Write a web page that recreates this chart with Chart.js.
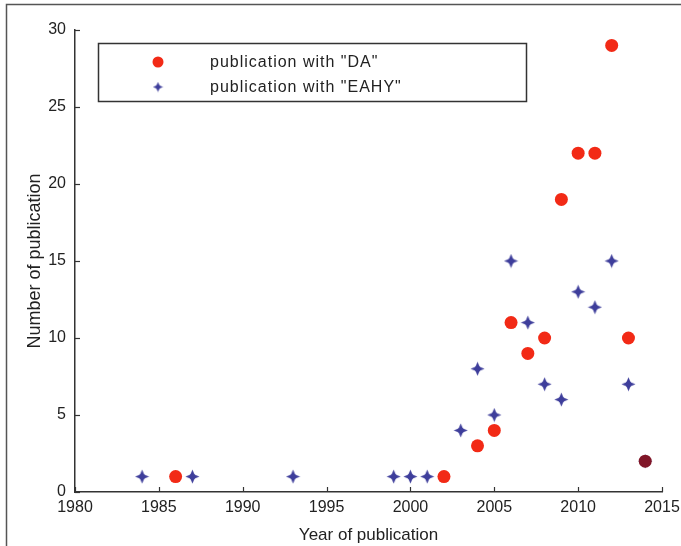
<!DOCTYPE html>
<html>
<head>
<meta charset="utf-8">
<script src="https://cdn.jsdelivr.net/npm/chart.js@4.4.0/dist/chart.umd.min.js"></script>
<style>
  html, body { margin: 0; padding: 0; background: #fff; }
  #wrap { width: 681px; height: 546px; }
</style>
</head>
<body>
<div id="wrap"><canvas id="pub-chart" width="681" height="546"></canvas></div>
<script>
const daYears = [1986, 2002, 2004, 2005, 2006, 2007, 2008, 2009, 2010, 2011, 2012, 2013, 2014]
const daCounts = [1, 1, 3, 4, 11, 9, 10, 19, 22, 22, 29, 10, 2]
const eahyYears = [1984, 1987, 1993, 1999, 2000, 2001, 2003, 2004, 2005, 2006, 2007, 2008, 2009, 2010, 2011, 2012, 2013, 2014]
const eahyCounts = [1, 1, 1, 1, 1, 1, 4, 8, 5, 15, 11, 7, 6, 13, 12, 15, 7, 2]
const xTicks = [1980, 1985, 1990, 1995, 2000, 2005, 2010, 2015]
const yTicks = [0, 5, 10, 15, 20, 25, 30]
const seriesLabels = ['publication with "DA"', 'publication with "EAHY"']

const FONT = '"Liberation Sans", Arial, sans-serif'
const RED = 'rgb(242,42,22)'
const OVERLAP = 'rgb(128,22,40)'
const BLUE = 'rgb(62,62,155)'

function toPoints(xs, ys) {
  return xs.map((x, i) => ({ x, y: ys[i] }))
}

function makeStar(size, color) {
  const c = document.createElement('canvas')
  c.width = size
  c.height = size
  const g = c.getContext('2d')
  const m = size / 2
  const outer = size / 2 - 0.5
  const inner = size * 0.2
  g.fillStyle = color
  g.beginPath()
  for (let i = 0; i < 8; i++) {
    const r = i % 2 === 0 ? outer : inner
    const a = -Math.PI / 2 + (i * Math.PI) / 4
    const px = m + r * Math.cos(a)
    const py = m + r * Math.sin(a)
    if (i === 0) g.moveTo(px, py)
    else g.lineTo(px, py)
  }
  g.closePath()
  g.fill()
  g.beginPath()
  g.arc(m, m, size * 0.2, 0, Math.PI * 2)
  g.fill()
  return c
}

const star = makeStar(15, BLUE)
const legendStar = makeStar(11, BLUE)

// DA point sitting on an EAHY point looks dark in the original
function daColor(ctx) {
  const p = ctx.raw
  if (!p) return RED
  const hit = eahyYears.some((yr, i) => yr === p.x && eahyCounts[i] === p.y)
  return hit ? OVERLAP : RED
}

const inwardTicks = {
  id: 'inwardTicks',
  afterDraw(chart) {
    const { ctx, chartArea, scales } = chart
    ctx.save()
    ctx.strokeStyle = '#333'
    ctx.lineWidth = 1.2
    xTicks.forEach((v) => {
      const px = Math.round(scales.x.getPixelForValue(v)) + 0.5
      ctx.beginPath()
      ctx.moveTo(px, chartArea.bottom)
      ctx.lineTo(px, chartArea.bottom - 5)
      ctx.stroke()
    })
    yTicks.forEach((v) => {
      const py = Math.round(scales.y.getPixelForValue(v)) + 0.5
      ctx.beginPath()
      ctx.moveTo(chartArea.left, py)
      ctx.lineTo(chartArea.left + 5, py)
      ctx.stroke()
    })
    ctx.restore()
  },
}

const boxLegend = {
  id: 'boxLegend',
  afterDraw(chart) {
    const { ctx } = chart
    ctx.save()
    ctx.strokeStyle = '#333'
    ctx.lineWidth = 1.5
    ctx.strokeRect(98.5, 43.5, 428, 58)

    ctx.fillStyle = RED
    ctx.beginPath()
    ctx.arc(158, 62, 5.5, 0, Math.PI * 2)
    ctx.fill()
    ctx.drawImage(legendStar, 158 - 5.5, 87 - 5.5)

    ctx.fillStyle = '#222'
    ctx.font = `16px ${FONT}`
    ctx.letterSpacing = '1px'
    ctx.textBaseline = 'middle'
    ctx.fillText(seriesLabels[0], 210, 63)
    ctx.fillText(seriesLabels[1], 210, 88)
    ctx.restore()
  },
}

const frame = {
  id: 'frame',
  afterDraw(chart) {
    const { ctx } = chart
    ctx.save()
    ctx.strokeStyle = '#555'
    ctx.lineWidth = 1.5
    ctx.beginPath()
    ctx.moveTo(6.5, 546)
    ctx.lineTo(6.5, 4.5)
    ctx.lineTo(681, 4.5)
    ctx.stroke()
    ctx.restore()
  },
}

new Chart(document.getElementById('pub-chart'), {
  type: 'scatter',
  data: {
    datasets: [
      {
        label: seriesLabels[0],
        data: toPoints(daYears, daCounts),
        pointStyle: 'circle',
        pointRadius: 6.5,
        pointHoverRadius: 6.5,
        backgroundColor: daColor,
        borderColor: daColor,
        borderWidth: 0,
      },
      {
        label: seriesLabels[1],
        data: toPoints(eahyYears, eahyCounts),
        pointStyle: star,
        pointRadius: 7,
        backgroundColor: BLUE,
        borderColor: BLUE,
      },
    ],
  },
  options: {
    responsive: false,
    animation: false,
    layout: { padding: { left: 0, top: 30, right: 19, bottom: 0 } },
    plugins: {
      legend: { display: false },
      tooltip: { enabled: false },
    },
    scales: {
      x: {
        type: 'linear',
        min: 1980,
        max: 2015,
        afterFit: (scale) => {
          scale.height = 54
          scale.paddingLeft = 0
          scale.paddingRight = 0
        },
        ticks: {
          stepSize: 5,
          color: '#222',
          font: { family: FONT, size: 16 },
          padding: 6,
          maxRotation: 0,
          callback: (v) => String(v),
        },
        grid: { display: false, drawTicks: false },
        border: { display: true, color: '#333', width: 1.5 },
        title: {
          display: true,
          text: 'Year of publication',
          color: '#222',
          font: { family: FONT, size: 17 },
          padding: { top: 10, bottom: 0 },
        },
      },
      y: {
        type: 'linear',
        min: 0,
        max: 30,
        afterFit: (scale) => { scale.width = 75 },
        ticks: {
          stepSize: 5,
          color: '#222',
          font: { family: FONT, size: 16 },
          padding: 9,
        },
        grid: { display: false, drawTicks: false },
        border: { display: true, color: '#333', width: 1.5 },
        title: {
          display: true,
          text: 'Number of publication',
          color: '#222',
          font: { family: FONT, size: 18 },
          padding: { top: 24, bottom: 0 },
        },
      },
    },
  },
  plugins: [inwardTicks, boxLegend, frame],
})
</script>
</body>
</html>
